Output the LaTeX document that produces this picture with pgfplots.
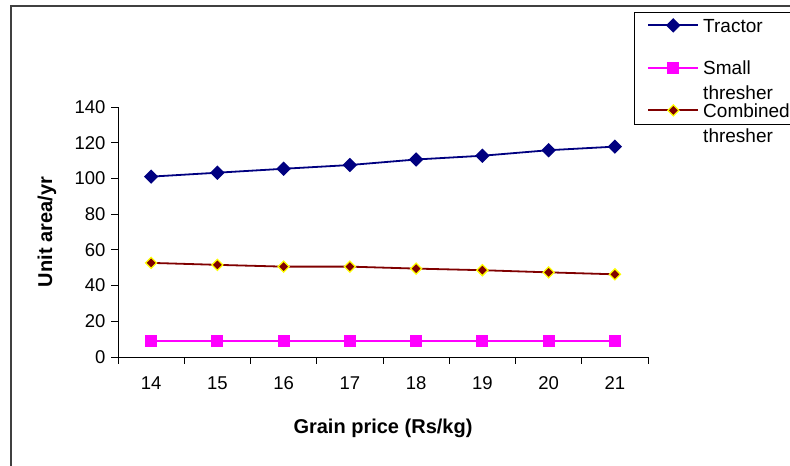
\documentclass[border=0pt]{standalone}
\usepackage{pgfplots}
\pgfplotsset{compat=1.18}
\usepackage{fontspec}
\setmainfont{Liberation Sans}

\definecolor{tractor}{HTML}{000080}
\definecolor{small}{HTML}{FF00FF}
\definecolor{combined}{HTML}{800000}
\definecolor{combedge}{HTML}{FFFF00}
\definecolor{framegray}{HTML}{404040}

% grain price, units/yr for the three machines
\pgfplotstableread{
price tractor small combined
14 101.0 9 52.7
15 103.2 9 51.6
16 105.4 9 50.6
17 107.5 9 50.6
18 110.6 9 49.5
19 112.7 9 48.6
20 115.8 9 47.4
21 117.8 9 46.3
}\datatable

\begin{document}
\begin{tikzpicture}[x=1bp,y=1bp]
\path[use as bounding box] (0,0) rectangle (790,466);
\draw[framegray, line width=1.5bp] (11,0) -- (11,460) -- (790,460);
\begin{axis}[
  scale only axis,
  width=530bp, height=250bp,
  at={(118bp,109bp)}, anchor=south west,
  xmin=13.5, xmax=21.5,
  ymin=0, ymax=140,
  axis x line*=bottom, axis y line*=left,
  axis line style={draw=black, line width=0.8bp},
  tick style={draw=black, line width=0.8bp},
  xtick={14,...,21},
  major x tick style={draw=none},
  minor xtick={13.5,14.5,...,21.5},
  ytick={0,20,...,140},
  tick align=outside,
  major tick length=7bp, minor tick length=7bp,
  /pgf/number format/assume math mode=true,
  ticklabel style={font=\fontsize{18.5bp}{21bp}\selectfont},
  xticklabel style={yshift=-9bp},
  yticklabel style={xshift=-2bp},
  xlabel={Grain price (Rs/kg)},
  ylabel={Unit area/yr},
  label style={font=\bfseries\fontsize{20bp}{23bp}\selectfont},
  xlabel style={at={(axis description cs:0.5,-0.308)}, anchor=base},
  ylabel style={at={(axis description cs:-0.134,0.5)}, anchor=center},
  clip=false,
  legend style={
    at={(0.9736,1.38)}, anchor=north west,
    draw=black, line width=0.8bp,
    inner xsep=13bp, inner ysep=6bp,
    row sep=27bp, column sep=4bp,
    nodes={inner sep=0pt},
    cells={anchor=base west},
    font=\fontsize{19bp}{25bp}\selectfont,
  },
  legend image code/.code={%
    \draw[mark repeat=2,mark phase=2,yshift=7bp]
      plot coordinates {(0bp,0bp) (25bp,0bp) (50bp,0bp)};%
  },
]
\addplot[color=tractor, line width=1.8bp, mark=square*, mark size=4.2bp,
  mark options={rotate=45, fill=tractor}]
  table[x=price, y=tractor] {\datatable};
\addlegendentry{\raisebox{0pt}[14bp][5bp]{Tractor}}
\addplot[color=small, line width=1.8bp, mark=square*, mark size=5bp,
  mark options={fill=small}]
  table[x=price, y=small] {\datatable};
\addlegendentry{\raisebox{0pt}[14bp][5bp]{\begin{tabular}[t]{@{}l@{}}Small\\thresher\end{tabular}}}
\addplot[color=combined, line width=1.8bp, mark=square*, mark size=3.9bp,
  mark options={rotate=45, fill=combined, draw=combedge, line width=1.3bp}]
  table[x=price, y=combined] {\datatable};
\addlegendentry{\raisebox{0pt}[14bp][22bp]{\begin{tabular}[t]{@{}l@{}}Combined\\thresher\end{tabular}}}
\end{axis}
\end{tikzpicture}
\end{document}
